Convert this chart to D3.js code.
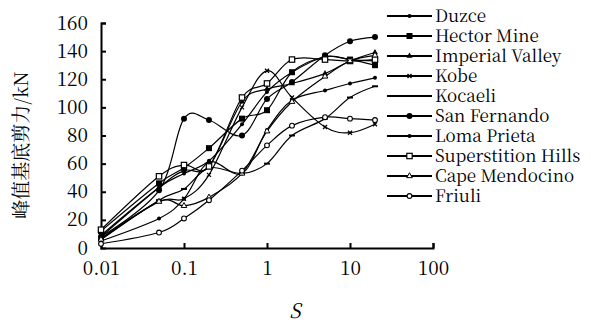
<!DOCTYPE html>
<html>
<head>
<meta charset="utf-8">
<script src="https://cdn.jsdelivr.net/npm/d3@7"></script>
<style>
  body { margin: 0; background: #fff; }
</style>
</head>
<body>
<svg id="chart" width="591" height="325"></svg>
<script>
// ratio S on the log x axis
var sValues = [0.01, 0.05, 0.1, 0.2, 0.5, 1, 2, 5, 10, 20];
var xTicks = [0.01, 0.1, 1, 10, 100];
var yTicks = [0, 20, 40, 60, 80, 100, 120, 140, 160];

var duzce = [9, 43, 53, 62, 88, 111, 125, 136, 134, 133];
var hectorMine = [12, 46, 57, 71, 92, 98, 125, 136, 134, 130];
var imperialValley = [8, 43, 55, 58, 104, 113, 117, 124, 133, 139];
var kobe = [7, 33, 35, 52, 100, 126, 107, 86, 82, 88];
var kocaeli = [6, 34, 42, 57, 53, 60, 80, 92, 107, 115];
var sanFernando = [8, 41, 92, 91, 80, 106, 118, 137, 147, 150];
var lomaPrieta = [5, 21, 35, 61, 53, 84, 105, 112, 117, 121];
var superstitionHills = [13, 51, 59, 58, 107, 117, 134, 134, 133, 134];
var capeMendocino = [6, 33, 30, 36, 53, 83, 104, 122, 133, 137];
var friuli = [3, 11, 21, 34, 55, 73, 87, 93, 92, 91];

var seriesNames = ['Duzce', 'Hector Mine', 'Imperial Valley', 'Kobe', 'Kocaeli',
  'San Fernando', 'Loma Prieta', 'Superstition Hills', 'Cape Mendocino', 'Friuli'];
var seriesValues = [duzce, hectorMine, imperialValley, kobe, kocaeli,
  sanFernando, lomaPrieta, superstitionHills, capeMendocino, friuli];
var seriesMarks = ['smalldot', 'square', 'triangle', 'cross', 'dash',
  'dot', 'smalldot', 'opensquare', 'opentriangle', 'opencircle'];

var serif = "'Noto Serif CJK SC', 'Liberation Serif'";

var svg = d3.select('#chart');
var x = d3.scaleLog().domain([0.01, 100]).range([101, 433]);
var y = d3.scaleLinear().domain([0, 160]).range([248, 23]);

// axes with inward ticks
var xAxis = svg.append('g')
  .attr('transform', 'translate(0,248)')
  .call(d3.axisBottom(x).tickValues(xTicks).tickSize(-5).tickPadding(14)
    .tickFormat(function(d) { return String(d); }));
var yAxis = svg.append('g')
  .attr('transform', 'translate(101,0)')
  .call(d3.axisLeft(y).tickValues(yTicks).tickSize(-5).tickPadding(13));

[xAxis, yAxis].forEach(function(g) {
  g.attr('font-family', null).attr('font-size', null);
  g.select('.domain').attr('stroke', '#000').attr('stroke-width', 2);
  g.selectAll('.tick line').attr('stroke', '#000').attr('stroke-width', 2);
  g.selectAll('.tick text').attr('fill', '#000')
    .style('font-family', serif).style('font-size', '19px');
});
xAxis.selectAll('.tick').filter(function(d) { return d === 0.01; }).select('line').remove();
yAxis.selectAll('.tick').filter(function(d) { return d === 0; }).select('line').remove();

var line = d3.line()
  .x(function(d) { return x(d.s); })
  .y(function(d) { return y(d.v); })
  .curve(d3.curveCardinal);

function drawMark(g, type, cx, cy) {
  if (type === 'smalldot') {
    g.append('circle').attr('cx', cx).attr('cy', cy).attr('r', 2).attr('fill', '#000');
  } else if (type === 'dot') {
    g.append('circle').attr('cx', cx).attr('cy', cy).attr('r', 3).attr('fill', '#000');
  } else if (type === 'square') {
    g.append('rect').attr('x', cx - 3).attr('y', cy - 3).attr('width', 6).attr('height', 6).attr('fill', '#000');
  } else if (type === 'opensquare') {
    g.append('rect').attr('x', cx - 2.7).attr('y', cy - 2.7).attr('width', 5.4).attr('height', 5.4)
      .attr('fill', '#fff').attr('stroke', '#000').attr('stroke-width', 1.2);
  } else if (type === 'triangle') {
    g.append('path').attr('d', d3.symbol(d3.symbolTriangle, 16)()).attr('transform', 'translate(' + cx + ',' + cy + ')')
      .attr('fill', '#000');
  } else if (type === 'opentriangle') {
    g.append('path').attr('d', d3.symbol(d3.symbolTriangle, 14)()).attr('transform', 'translate(' + cx + ',' + cy + ')')
      .attr('fill', '#fff').attr('stroke', '#000').attr('stroke-width', 1);
  } else if (type === 'cross') {
    g.append('path').attr('d', 'M' + (cx - 2) + ',' + (cy - 2) + 'L' + (cx + 2) + ',' + (cy + 2) +
      'M' + (cx - 2) + ',' + (cy + 2) + 'L' + (cx + 2) + ',' + (cy - 2))
      .attr('stroke', '#000').attr('stroke-width', 1.3);
  } else if (type === 'dash') {
    g.append('path').attr('d', 'M' + (cx - 3) + ',' + cy + 'L' + (cx + 3) + ',' + cy)
      .attr('stroke', '#000').attr('stroke-width', 2);
  } else if (type === 'opencircle') {
    g.append('circle').attr('cx', cx).attr('cy', cy).attr('r', 2.4)
      .attr('fill', '#fff').attr('stroke', '#000').attr('stroke-width', 1.1);
  }
}

seriesValues.forEach(function(vals, i) {
  var pts = vals.map(function(v, j) { return { s: sValues[j], v: v }; });
  var g = svg.append('g');
  g.append('path').datum(pts).attr('d', line)
    .attr('fill', 'none').attr('stroke', '#000').attr('stroke-width', 1.2);
  pts.forEach(function(p) { drawMark(g, seriesMarks[i], x(p.s), y(p.v)); });
});

// legend
var legend = svg.append('g');
seriesNames.forEach(function(name, i) {
  var ly = 16 + i * 20;
  legend.append('line').attr('x1', 387).attr('x2', 432).attr('y1', ly).attr('y2', ly)
    .attr('stroke', '#000').attr('stroke-width', 1.8);
  drawMark(legend, seriesMarks[i], 409.5, ly);
  svg.append('text').attr('x', 435).attr('y', ly + 6)
    .style('font-family', serif).style('font-size', '17px').text(name);
});

// axis titles
svg.append('text').attr('x', 295).attr('y', 318).attr('text-anchor', 'middle')
  .style('font-family', serif).style('font-size', '20px').style('font-style', 'italic').text('S');
svg.append('text')
  .attr('transform', 'translate(28,145) rotate(-90)')
  .attr('text-anchor', 'middle')
  .style('font-family', serif)
  .style('font-size', '19px')
  .text('峰值基底剪力/kN');
</script>
</body>
</html>
